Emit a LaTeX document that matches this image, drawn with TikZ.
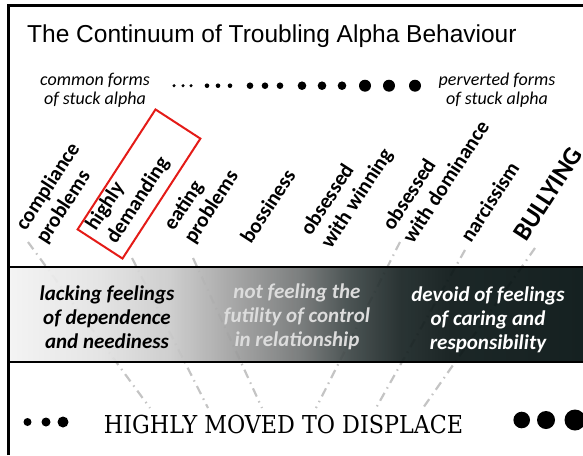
\documentclass[tikz,border=0pt]{standalone}
\usepackage{fontspec}
\usepackage[x11names, rgb]{xcolor}
\usepackage{tikz}

\newfontfamily\arialfont{Liberation Sans}
\newfontfamily\calfont{Carlito}
\newfontfamily\slabfont{DejaVu Serif}

\definecolor{band0}{HTML}{F3F3F3}
\definecolor{band1}{HTML}{E2E2E2}
\definecolor{band2}{HTML}{CBCBCB}
\definecolor{band3}{HTML}{A2A2A2}
\definecolor{band4}{HTML}{717474}
\definecolor{band5}{HTML}{3D4646}
\definecolor{band6}{HTML}{1A2525}
\definecolor{band7}{HTML}{0B1616}
\definecolor{band8}{HTML}{031010}
\definecolor{guidegray}{HTML}{C4C4C4}
\definecolor{hlred}{HTML}{E41B17}
\definecolor{midtext}{HTML}{DCDCDC}

\pgfdeclarehorizontalshading{bandshade}{100bp}{color(0bp)=(band0); color(25bp)=(band0); color(33bp)=(band1); color(39bp)=(band2); color(44.3bp)=(band3); color(50.4bp)=(band4); color(54.7bp)=(band5); color(59bp)=(band6); color(63.4bp)=(band7); color(75bp)=(band8); color(100bp)=(band8)}

\begin{document}
\begin{tikzpicture}
[x=1pt,y=-1pt]
\tikzset{
	item/.style = {rotate=57, anchor=base west, inner sep=0, align=left, font=\calfont\bfseries\fontsize{21}{24}\selectfont},
	side/.style = {align=center, inner sep=0, font=\calfont\itshape\fontsize{18}{19}\selectfont},
	feel/.style = {align=center, inner sep=0, font=\calfont\bfseries\itshape\fontsize{21}{24}\selectfont},
	guide/.style = {guidegray, line width=2.2pt, dash pattern=on 9pt off 5pt on 1.5pt off 5pt},
	dot/.style = {circle, fill=black, inner sep=0}
}

\useasboundingbox (0,0) rectangle (583,455);

\node(title) [anchor=base west, inner sep=0, font=\arialfont\fontsize{24.5}{28}\selectfont] at (27,42.5) {The Continuum of Troubling Alpha Behaviour};

\node(common) [side] at (95,90) {common forms\\of stuck alpha};
\node(perverted) [side] at (497,90) {perverted forms\\of stuck alpha};

\foreach \x/\d [count=\i] in {174/3.4,183/3.4,191/3.4,207/4.6,218/4.6,230/4.6,250/6.6,265/6.6,280/6.6,302/8.6,322/8.6,342/8.6,365/12,389/12,415/12}
	\node(top\i) [dot, minimum size=\d pt] at (\x,85.7) {};

% the forms of stuck alpha
\node(cp) [item] at (46,245) {compliance\\problems};
\node(hd) [item] at (116,245) {highly\\demanding};
\node(ep) [item] at (194,245) {eating\\problems};
\node(bo) [item] at (251,245) {bossiness};
\node(ow) [item] at (331,250) {obsessed\\with winning};
\node(od) [item] at (413,245) {obsessed\\with dominance};
\node(na) [item] at (471,244) {narcissism};
\node(bu) [item, font=\calfont\bfseries\fontsize{26}{28}\selectfont] at (526,243) {BULLYING};

\node(hbox) [draw=hlred, line width=2pt, rotate=57, minimum width=143pt, minimum height=53.5pt, inner sep=0] at (139,184) {};

\foreach \i/\sx/\sy/\ex in {1/28/242/150, 2/132/258/208, 3/193/258/262, 4/400/242/316, 5/465/250/376, 6/535/248/423}
{
	\coordinate (s\i) at (\sx,\sy);
	\coordinate (e\i) at (\ex,408);
	\draw [guide] (s\i) -- (e\i);
}

\shade [shading=bandshade, fill opacity=0.93] (8.5,267) rectangle (583,362);
\draw [line width=2pt] (8.5,267) -- (583,267) (8.5,362) -- (583,362);

\node(lack) [feel] at (107,317) {lacking feelings\\of dependence\\and neediness};
\node(futile) [feel, text=midtext] at (297,317) {not feeling the\\futility of control\\in relationship};
\node(devoid) [feel, text=white] at (488,320) {devoid of feelings\\of caring and\\responsibility};

\node(displace) [anchor=base, inner sep=0, xscale=0.9, font=\slabfont\fontsize{24.7}{28}\selectfont] at (283.5,433) {HIGHLY MOVED TO DISPLACE};

\foreach \x/\y/\d [count=\i] in {27.5/422/8, 46/422/9, 63/422/11, 521.7/420/16.6, 546/420/18, 575/420/21}
	\node(low\i) [dot, minimum size=\d pt] at (\x,\y) {};

\draw [line width=2.5pt] (8.5,455) -- (8.5,5.5) -- (583,5.5);
\end{tikzpicture}
\end{document}
